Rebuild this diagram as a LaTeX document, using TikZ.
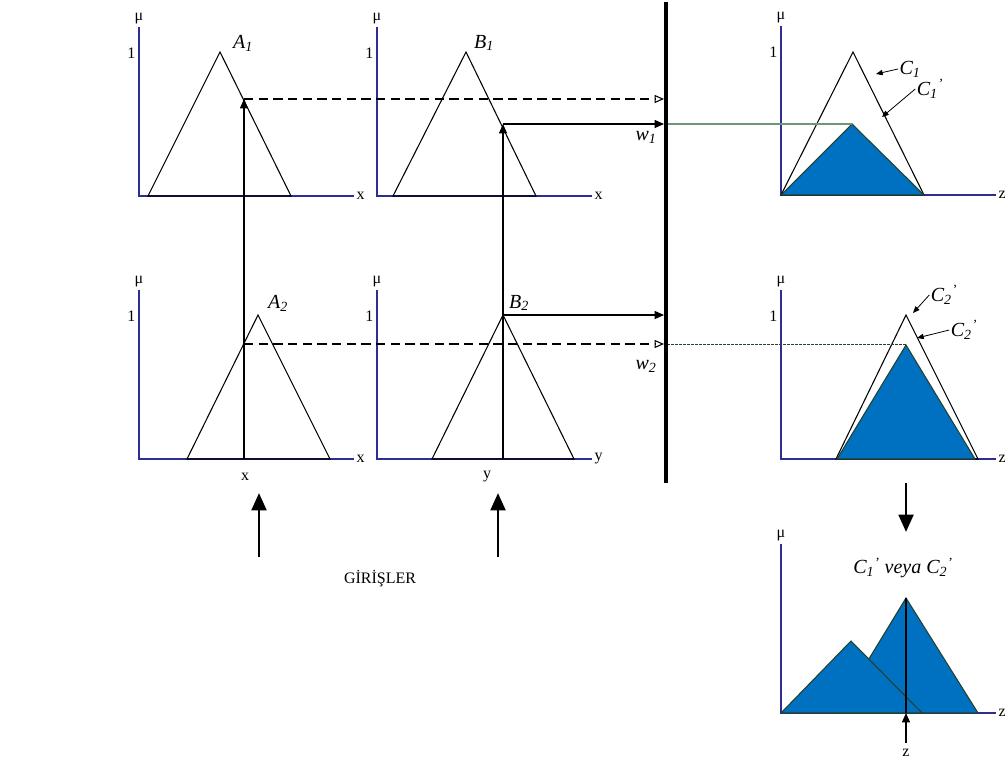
\documentclass[tikz,border=0pt]{standalone}
\usepackage{fontspec}
\setmainfont{Liberation Serif}
\usepackage{tikz}
\usetikzlibrary{arrows.meta}
\definecolor{axisblue}{RGB}{45,45,150}
\definecolor{fillblue}{RGB}{0,112,192}
\definecolor{edgegreen}{RGB}{35,65,45}
\definecolor{linegreen}{RGB}{110,150,120}
\newcommand{\subprime}[2]{#1\textsubscript{#2}\textsuperscript{'}}

\begin{document}
\begin{tikzpicture}[x=0.75pt, y=-0.75pt, >=Triangle,
    txt/.style={font=\fontsize{12}{14}\selectfont, inner sep=1pt},
    lbl/.style={font=\fontsize{15}{17}\selectfont\itshape, inner sep=1pt},
    axisline/.style={draw=axisblue, line width=1pt},
    tri/.style={draw=black, line width=0.8pt},
    cut/.style={fill=fillblue, draw=edgegreen, line width=0.8pt},
    conn/.style={line width=0.8pt, -{Triangle[length=7pt,width=6pt]}},
    dconn/.style={line width=0.8pt, dash pattern=on 7pt off 4pt, -{Triangle[open,length=7pt,width=6pt]}},
    note/.style={line width=0.6pt, -{Triangle[length=5pt,width=4pt]}},
    bigarrow/.style={line width=2.2pt, -{Triangle[length=13pt,width=11pt]}}]
    \useasboundingbox (0,0) rectangle (1005,764);

    \foreach \ox/\oy/\ax/\nm in {139/196/x/pa, 377/196/x/pb, 781/195/z/pc, 139/459/x/pd, 377/459/y/pe, 781/459/z/pf, 781/713/z/pg} {
      \draw[axisline] (\ox,\oy-169) -- (\ox,\oy) -- (\ox+215,\oy);
      \node[txt] (\nm mu) at (\ox,\oy-177) {μ};
      \node[txt, anchor=west] (\nm ax) at (\ox+216,\oy) {\ax};
    }
    \foreach \ox/\oy/\nm in {139/196/pa, 377/196/pb, 781/195/pc, 139/459/pd, 377/459/pe, 781/459/pf} {
      \node[txt, anchor=east] (\nm one) at (\ox-2,\oy-143) {1};
    }

    \draw[tri] (148,196) -- (220,52) -- (291,196) -- cycle;
    \draw[tri] (393,196) -- (466,52) -- (536,196) -- cycle;
    \draw[tri] (187,459) -- (258,315) -- (330,459) -- cycle;
    \draw[tri] (432,459) -- (503,315) -- (574,459) -- cycle;
    \draw[tri] (781,195) -- (853,52) -- (924,195) -- cycle;
    \draw[cut] (781,195) -- (852,124) -- (924,195) -- cycle;
    \draw[tri] (836,459) -- (906,315) -- (978,459) -- cycle;
    \draw[cut] (837,459) -- (906,345) -- (975,459) -- cycle;
    \draw[cut] (836,713) -- (906,598) -- (978,713) -- cycle;
    \draw[cut] (781,713) -- (851,641) -- (922,713) -- cycle;

    \node[lbl] (la1) at (243,43) {A\textsubscript{1}};
    \node[lbl] (lb1) at (484,43) {B\textsubscript{1}};
    \node[lbl] (la2) at (278,303) {A\textsubscript{2}};
    \node[lbl] (lb2) at (519,303) {B\textsubscript{2}};
    \node[lbl] (w1) at (646,137) {w\textsubscript{1}};
    \node[lbl] (w2) at (646,366) {w\textsubscript{2}};

    \coordinate (xin) at (244,459);
    \coordinate (xa1) at (244,99);
    \coordinate (xa2) at (244,344);
    \coordinate (yin) at (503,459);
    \coordinate (yb1) at (503,124);
    \coordinate (yb2) at (503,315);
    \coordinate (w1a) at (664,99);
    \coordinate (w1b) at (664,124);
    \coordinate (w2a) at (664,315);
    \coordinate (w2b) at (664,344);
    \coordinate (bar1) at (667,124);
    \coordinate (bar2) at (667,344);
    \coordinate (c1cut) at (852,124);
    \coordinate (c2cut) at (906,344);
    \coordinate (bartop) at (666,2);
    \coordinate (barbot) at (666,483);

    \draw[conn] (xin) -- (xa1);
    \draw[conn] (yin) -- (yb1);
    \draw[dconn] (xa1) -- (w1a);
    \draw[conn] (yb1) -- (w1b);
    \draw[conn] (yb2) -- (w2a);
    \draw[dconn] (xa2) -- (w2b);
    \draw[linegreen, line width=0.8pt] (bar1) -- (c1cut);
    \draw[edgegreen, line width=0.6pt, dash pattern=on 2pt off 1pt] (bar2) -- (c2cut);
    \draw[line width=3pt] (bartop) -- (barbot);

    \node[lbl] (c1) at (910,69) {C\textsubscript{1}};
    \node[lbl] (c1p) at (930,89) {\subprime{C}{1}};
    \node[lbl] (c2p) at (944,295) {\subprime{C}{2}};
    \node[lbl] (c2q) at (964,330) {\subprime{C}{2}};
    \coordinate (c1pt) at (876,74);
    \coordinate (c1ppt) at (882,117);
    \coordinate (c2pt) at (913,313);
    \coordinate (c2qpt) at (917,338);
    \draw[note] (c1.west) -- (c1pt);
    \draw[note] (c1p.west) -- (c1ppt);
    \draw[note] (c2p.west) -- (c2pt);
    \draw[note] (c2q.west) -- (c2qpt);

    \node[txt] (xlab) at (245,477) {x};
    \node[txt] (ylab) at (487,477) {y};
    \node[txt] (giris) at (380,579) {GİRİŞLER};
    \coordinate (xs) at (259,557);
    \coordinate (xe) at (259,493);
    \coordinate (ys) at (498,557);
    \coordinate (ye) at (498,493);
    \draw[bigarrow] (xs) -- (xe);
    \draw[bigarrow] (ys) -- (ye);

    \coordinate (ds) at (906,483);
    \coordinate (de) at (906,532);
    \draw[bigarrow] (ds) -- (de);
    \node[lbl] (res) at (903,568) {\subprime{C}{1} veya \subprime{C}{2}};

    \coordinate (ztop) at (906,598);
    \coordinate (zval) at (906,713);
    \coordinate (zarr) at (906,743);
    \draw[line width=0.8pt] (ztop) -- (zval);
    \draw[conn] (zarr) -- (zval);
    \node[txt] (zlab) at (906,753) {z};
  \end{tikzpicture}
\end{document}
